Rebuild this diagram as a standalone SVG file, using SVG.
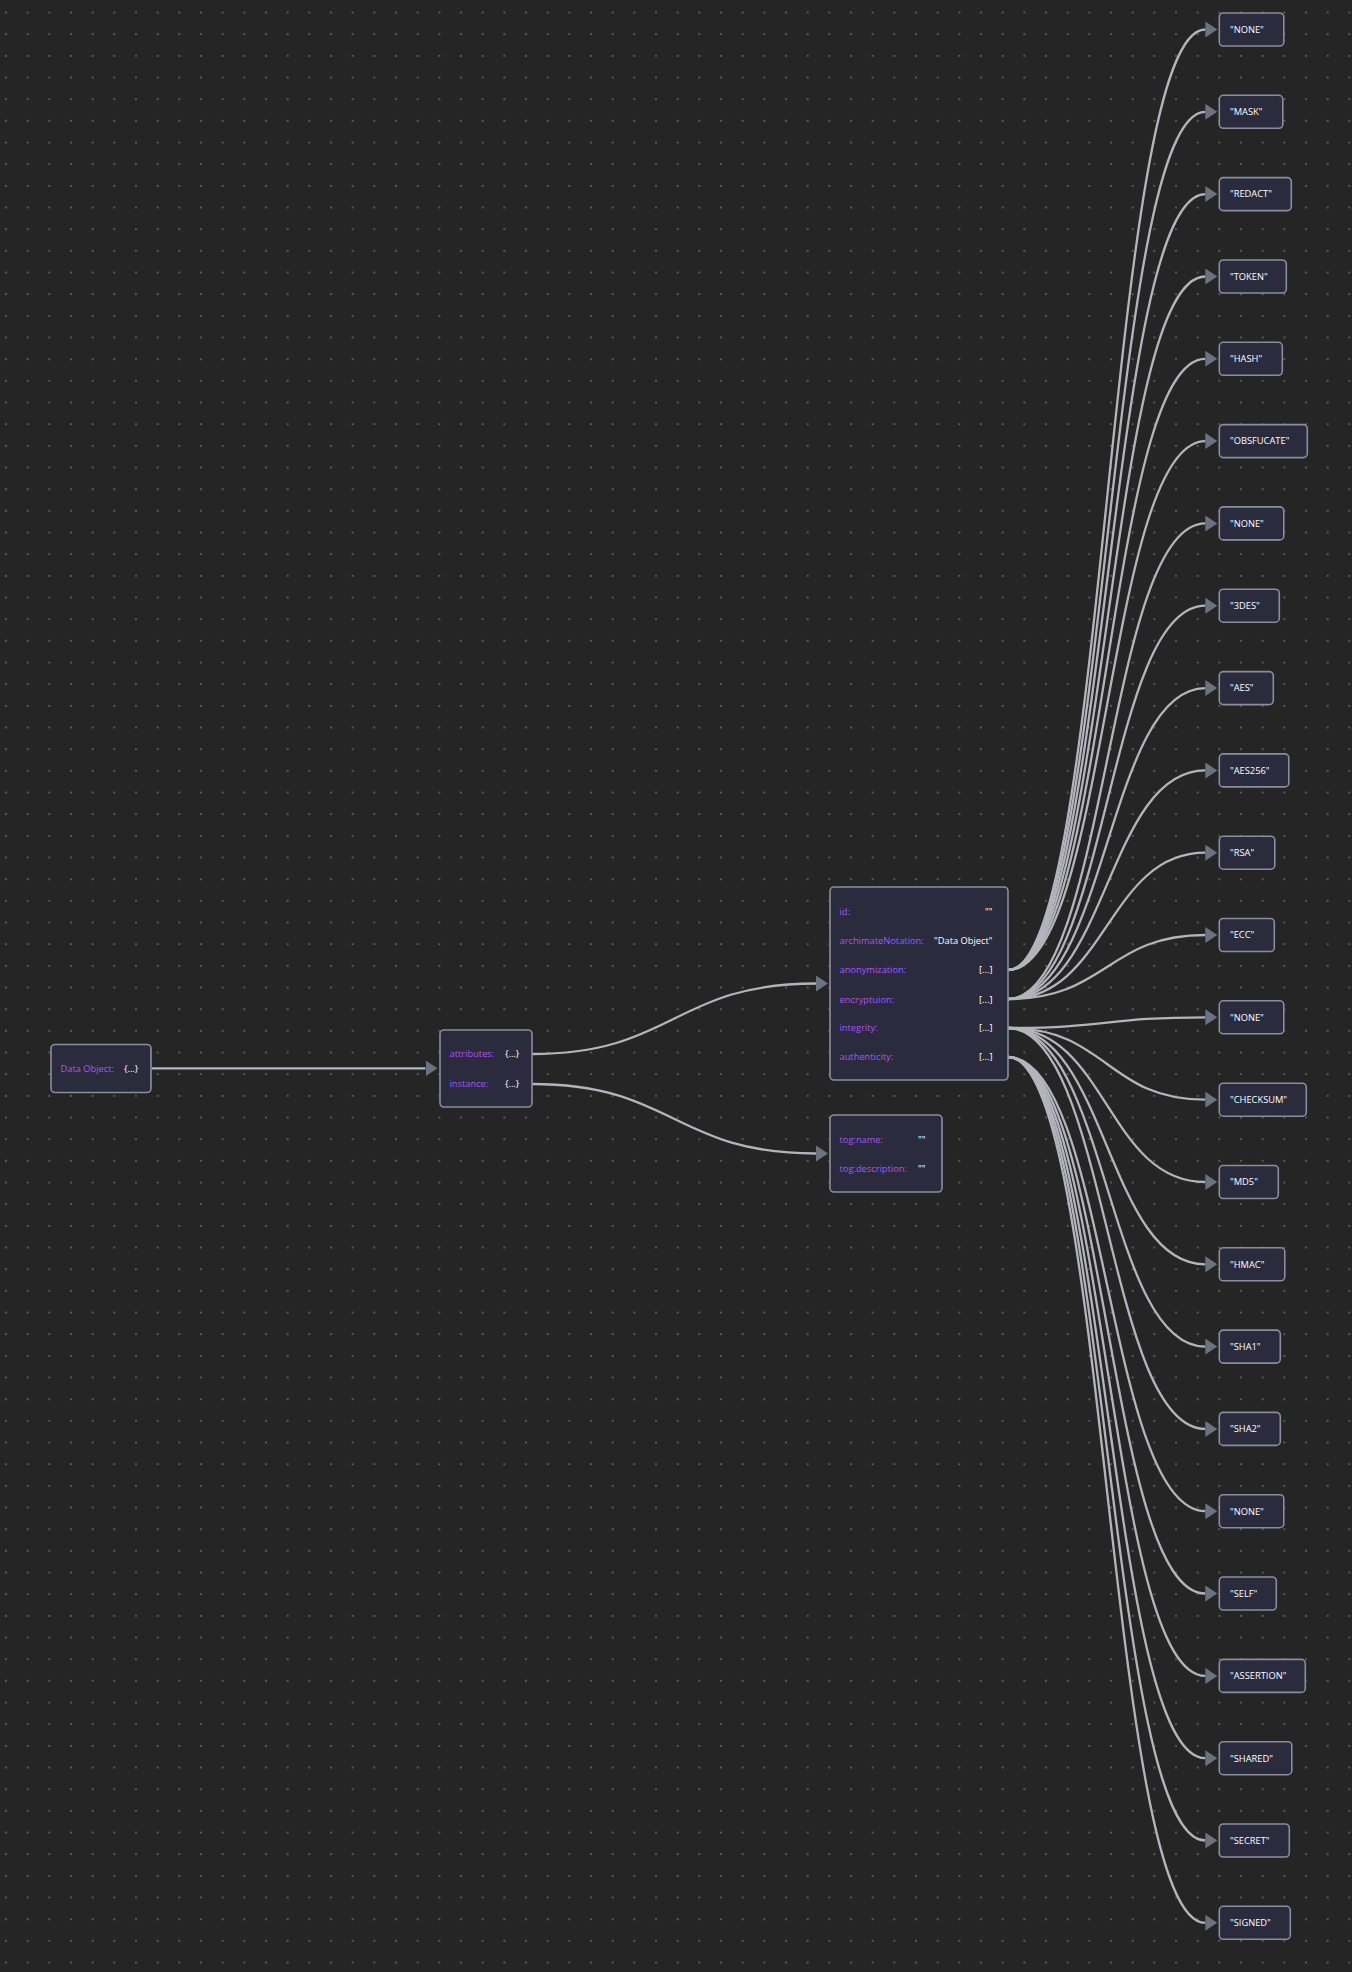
<svg xmlns="http://www.w3.org/2000/svg" width="1352" height="1972" viewBox="0 0 1352 1972">
<defs>
<pattern id="grid" x="-4.83" y="1.67" width="21.667" height="21.667" patternUnits="userSpaceOnUse">
<circle cx="10.83" cy="10.83" r="1.1" fill="#636363"/>
</pattern>
<marker id="arr" markerWidth="13" markerHeight="17" refX="0" refY="8" orient="auto" markerUnits="userSpaceOnUse">
<path d="M0,0 L12,8 L0,16 z" fill="#6b7280"/>
</marker>
<style>
.node{fill:#2a2b3d;stroke:#8a8e9b;stroke-width:1.6}
.lbl{font-family:"Open Sans","Liberation Sans",sans-serif;font-size:9.3px;fill:#a855f7}
.val{font-family:"Open Sans","Liberation Sans",sans-serif;font-size:9.3px;fill:#ffffff}
.edge{fill:none;stroke:#b4b4bc;stroke-width:2.3;marker-end:url(#arr)}
</style>
</defs>
<rect width="1352" height="1972" fill="#252525"/>
<rect width="1352" height="1972" fill="url(#grid)"/>

<g id="connectors">
<path class="edge" d="M151.5,1068.3 L425.5,1068.3"/>
<path class="edge" d="M532,1054 C674,1054 674,983.5 816,983.5"/>
<path class="edge" d="M532,1084 C674,1084 674,1153.5 816,1153.5"/>
<path class="edge" d="M1008,970 C1107,970 1107,29.5 1205.3,29.5"/>
<path class="edge" d="M1008,970 C1107,970 1107,111.8 1205.3,111.8"/>
<path class="edge" d="M1008,970 C1107,970 1107,194.1 1205.3,194.1"/>
<path class="edge" d="M1008,970 C1107,970 1107,276.5 1205.3,276.5"/>
<path class="edge" d="M1008,970 C1107,970 1107,358.8 1205.3,358.8"/>
<path class="edge" d="M1008,970 C1107,970 1107,441.1 1205.3,441.1"/>
<path class="edge" d="M1008,999 C1107,999 1107,523.4 1205.3,523.4"/>
<path class="edge" d="M1008,999 C1107,999 1107,605.7 1205.3,605.7"/>
<path class="edge" d="M1008,999 C1107,999 1107,688.1 1205.3,688.1"/>
<path class="edge" d="M1008,999 C1107,999 1107,770.4 1205.3,770.4"/>
<path class="edge" d="M1008,999 C1107,999 1107,852.7 1205.3,852.7"/>
<path class="edge" d="M1008,999 C1107,999 1107,935 1205.3,935"/>
<path class="edge" d="M1008,1028 C1107,1028 1107,1017.3 1205.3,1017.3"/>
<path class="edge" d="M1008,1028 C1107,1028 1107,1099.7 1205.3,1099.7"/>
<path class="edge" d="M1008,1028 C1107,1028 1107,1182 1205.3,1182"/>
<path class="edge" d="M1008,1028 C1107,1028 1107,1264.3 1205.3,1264.3"/>
<path class="edge" d="M1008,1028 C1107,1028 1107,1346.6 1205.3,1346.6"/>
<path class="edge" d="M1008,1028 C1107,1028 1107,1428.9 1205.3,1428.9"/>
<path class="edge" d="M1008,1057 C1107,1057 1107,1511.2 1205.3,1511.2"/>
<path class="edge" d="M1008,1057 C1107,1057 1107,1593.5 1205.3,1593.5"/>
<path class="edge" d="M1008,1057 C1107,1057 1107,1675.9 1205.3,1675.9"/>
<path class="edge" d="M1008,1057 C1107,1057 1107,1758.2 1205.3,1758.2"/>
<path class="edge" d="M1008,1057 C1107,1057 1107,1840.5 1205.3,1840.5"/>
<path class="edge" d="M1008,1057 C1107,1057 1107,1922.8 1205.3,1922.8"/>
</g>

<g id="node-dataobject">
<rect class="node" x="51" y="1044.5" width="100" height="48" rx="4"/>
<text class="lbl" x="60.5" y="1071.6">Data Object:</text>
<text class="val" x="124" y="1071.6">{...}</text>
</g>

<g id="node-root">
<rect class="node" x="440" y="1030" width="92" height="77" rx="4"/>
<text class="lbl" x="449.5" y="1057.3">attributes:</text>
<text class="val" x="505" y="1057.3">{...}</text>
<text class="lbl" x="449.5" y="1087.3">instance:</text>
<text class="val" x="505" y="1087.3">{...}</text>
</g>

<g id="node-attributes">
<rect class="node" x="830" y="887" width="178" height="193" rx="4"/>
<text class="lbl" x="839.5" y="915.3">id:</text>
<text class="val" x="992.5" y="915.3" text-anchor="end">""</text>
<text class="lbl" x="839.5" y="944.3">archimateNotation:</text>
<text class="val" x="992.5" y="944.3" text-anchor="end">"Data Object"</text>
<text class="lbl" x="839.5" y="973.3">anonymization:</text>
<text class="val" x="992.5" y="973.3" text-anchor="end">[...]</text>
<text class="lbl" x="839.5" y="1002.8">encryptuion:</text>
<text class="val" x="992.5" y="1002.8" text-anchor="end">[...]</text>
<text class="lbl" x="839.5" y="1031">integrity:</text>
<text class="val" x="992.5" y="1031" text-anchor="end">[...]</text>
<text class="lbl" x="839.5" y="1060">authenticity:</text>
<text class="val" x="992.5" y="1060" text-anchor="end">[...]</text>
</g>

<g id="node-instance">
<rect class="node" x="830" y="1115" width="112" height="77" rx="4"/>
<text class="lbl" x="839.5" y="1142.6">tog:name:</text>
<text class="val" x="918" y="1142.6">""</text>
<text class="lbl" x="839.5" y="1171.6">tog:description:</text>
<text class="val" x="918" y="1171.6">""</text>
</g>

<g id="leaf-anon-none"><rect class="node" x="1219.3" y="13" width="64.5" height="33" rx="4"/><text class="val" x="1230" y="32.8">"NONE"</text></g>
<g id="leaf-anon-mask"><rect class="node" x="1219.3" y="95.3" width="63.5" height="33" rx="4"/><text class="val" x="1230" y="115.1">"MASK"</text></g>
<g id="leaf-anon-redact"><rect class="node" x="1219.3" y="177.6" width="72" height="33" rx="4"/><text class="val" x="1230" y="197.4">"REDACT"</text></g>
<g id="leaf-anon-token"><rect class="node" x="1219.3" y="260" width="67" height="33" rx="4"/><text class="val" x="1230" y="279.8">"TOKEN"</text></g>
<g id="leaf-anon-hash"><rect class="node" x="1219.3" y="342.3" width="63" height="33" rx="4"/><text class="val" x="1230" y="362.1">"HASH"</text></g>
<g id="leaf-anon-obsfucate"><rect class="node" x="1219.3" y="424.6" width="88" height="33" rx="4"/><text class="val" x="1230" y="444.4">"OBSFUCATE"</text></g>
<g id="leaf-enc-none"><rect class="node" x="1219.3" y="506.9" width="64.5" height="33" rx="4"/><text class="val" x="1230" y="526.7">"NONE"</text></g>
<g id="leaf-enc-3des"><rect class="node" x="1219.3" y="589.2" width="60" height="33" rx="4"/><text class="val" x="1230" y="609">"3DES"</text></g>
<g id="leaf-enc-aes"><rect class="node" x="1219.3" y="671.6" width="54" height="33" rx="4"/><text class="val" x="1230" y="691.4">"AES"</text></g>
<g id="leaf-enc-aes256"><rect class="node" x="1219.3" y="753.9" width="69.5" height="33" rx="4"/><text class="val" x="1230" y="773.7">"AES256"</text></g>
<g id="leaf-enc-rsa"><rect class="node" x="1219.3" y="836.2" width="55.5" height="33" rx="4"/><text class="val" x="1230" y="856">"RSA"</text></g>
<g id="leaf-enc-ecc"><rect class="node" x="1219.3" y="918.5" width="55" height="33" rx="4"/><text class="val" x="1230" y="938.3">"ECC"</text></g>
<g id="leaf-int-none"><rect class="node" x="1219.3" y="1000.8" width="64.5" height="33" rx="4"/><text class="val" x="1230" y="1020.6">"NONE"</text></g>
<g id="leaf-int-checksum"><rect class="node" x="1219.3" y="1083.2" width="87" height="33" rx="4"/><text class="val" x="1230" y="1103">"CHECKSUM"</text></g>
<g id="leaf-int-md5"><rect class="node" x="1219.3" y="1165.5" width="59" height="33" rx="4"/><text class="val" x="1230" y="1185.3">"MD5"</text></g>
<g id="leaf-int-hmac"><rect class="node" x="1219.3" y="1247.8" width="65.5" height="33" rx="4"/><text class="val" x="1230" y="1267.6">"HMAC"</text></g>
<g id="leaf-int-sha1"><rect class="node" x="1219.3" y="1330.1" width="61" height="33" rx="4"/><text class="val" x="1230" y="1349.9">"SHA1"</text></g>
<g id="leaf-int-sha2"><rect class="node" x="1219.3" y="1412.4" width="61" height="33" rx="4"/><text class="val" x="1230" y="1432.2">"SHA2"</text></g>
<g id="leaf-auth-none"><rect class="node" x="1219.3" y="1494.7" width="64.5" height="33" rx="4"/><text class="val" x="1230" y="1514.5">"NONE"</text></g>
<g id="leaf-auth-self"><rect class="node" x="1219.3" y="1577" width="57" height="33" rx="4"/><text class="val" x="1230" y="1596.8">"SELF"</text></g>
<g id="leaf-auth-assertion"><rect class="node" x="1219.3" y="1659.4" width="86" height="33" rx="4"/><text class="val" x="1230" y="1679.2">"ASSERTION"</text></g>
<g id="leaf-auth-shared"><rect class="node" x="1219.3" y="1741.7" width="72.5" height="33" rx="4"/><text class="val" x="1230" y="1761.5">"SHARED"</text></g>
<g id="leaf-auth-secret"><rect class="node" x="1219.3" y="1824" width="70" height="33" rx="4"/><text class="val" x="1230" y="1843.8">"SECRET"</text></g>
<g id="leaf-auth-signed"><rect class="node" x="1219.3" y="1906.3" width="71" height="33" rx="4"/><text class="val" x="1230" y="1926.1">"SIGNED"</text></g>
</svg>
